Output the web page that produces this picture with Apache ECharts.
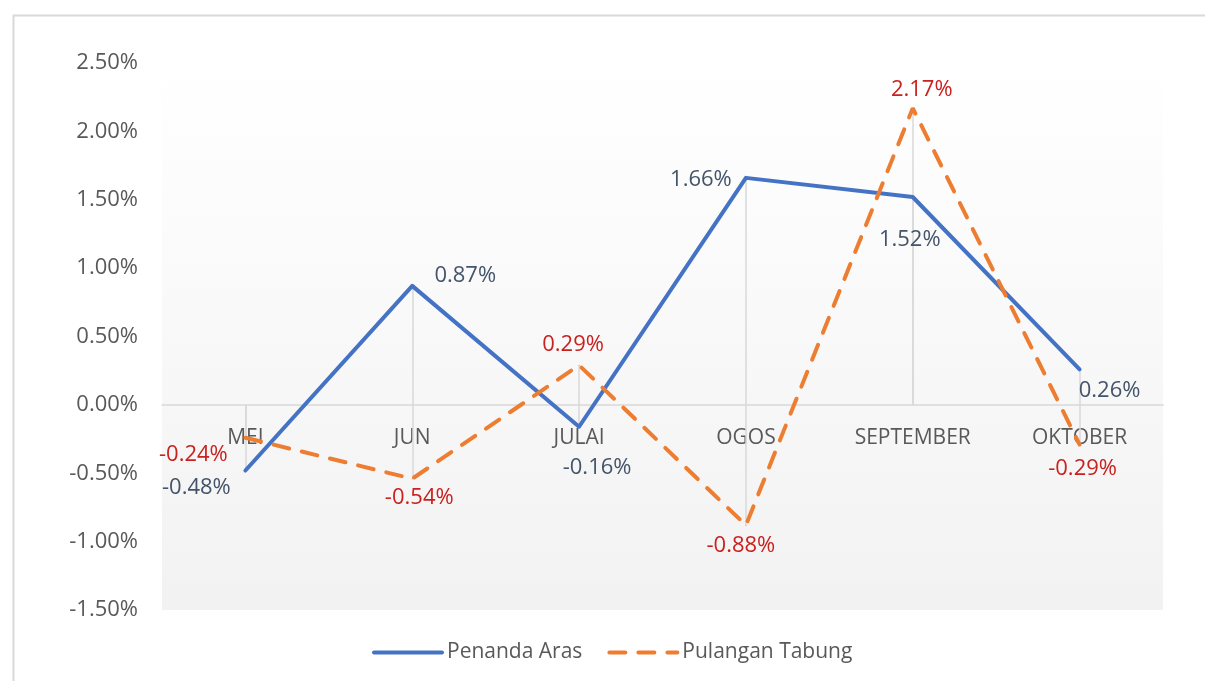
<!DOCTYPE html>
<html>
<head>
<meta charset="utf-8">
<script src="https://cdn.jsdelivr.net/npm/echarts@6/dist/echarts.min.js"></script>
<style>
  html, body { margin: 0; padding: 0; background: #fff; }
  #chart { width: 1205px; height: 681px; }
</style>
</head>
<body>
<div id="chart"></div>
<script>
// data (percent)
const months = ['MEI', 'JUN', 'JULAI', 'OGOS', 'SEPTEMBER', 'OKTOBER']
const penandaAras = [-0.48, 0.87, -0.16, 1.66, 1.52, 0.26]
const pulanganTabung = [-0.24, -0.54, 0.29, -0.88, 2.17, -0.29]

// label nudges (px) relative to each point
const offsetAras = [[-49, 17], [53, -10], [18, 41], [-45, 2], [-3, 43], [30, 21]]
const offsetTabung = [[-52, 17], [7, 19], [-6, -20], [-5, 21], [9, -18], [3, 24]]

const font = '"Open Sans", sans-serif'

function withLabels (values, offsets, color) {
  return values.map((v, i) => ({
    value: v,
    label: {
      show: true,
      position: 'inside',
      offset: offsets[i],
      color: color,
      fontFamily: font,
      fontSize: 22,
      formatter: (p) => p.value.toFixed(2) + '%'
    }
  }))
}

function dropLines (values) {
  return values.map((v, i) => [{ coord: [i, v] }, { coord: [i, 0] }])
}

const chart = echarts.init(document.getElementById('chart'))

const option = {
  animation: false,
  graphic: [{
    type: 'rect',
    left: 11,
    top: 13,
    shape: { width: 1220, height: 720 },
    style: { fill: 'none', stroke: '#d9d9d9', lineWidth: 2 },
    silent: true
  }],
  grid: {
    left: 162,
    right: 42,
    top: 63,
    bottom: 71,
    show: true,
    borderWidth: 0,
    backgroundColor: new echarts.graphic.LinearGradient(0, 0, 0, 1, [
      { offset: 0, color: '#ffffff' },
      { offset: 1, color: '#f2f2f2' }
    ])
  },
  legend: {
    bottom: 13,
    left: 367,
    itemWidth: 68,
    itemHeight: 10,
    itemGap: 25,
    data: ['Penanda Aras', 'Pulangan Tabung'],
    itemStyle: { opacity: 0 },
    lineStyle: { width: 4 },
    textStyle: { color: '#595959', fontFamily: font, fontSize: 21 }
  },
  xAxis: {
    type: 'category',
    data: months,
    boundaryGap: true,
    axisLine: { onZero: false, lineStyle: { color: '#d9d9d9', width: 1.5 } },
    axisTick: { show: false },
    axisLabel: { color: '#595959', fontFamily: font, fontSize: 21, margin: 23 }
  },
  yAxis: {
    type: 'value',
    min: -1.5,
    max: 2.5,
    interval: 0.5,
    splitLine: { show: false },
    axisLine: { show: false },
    axisTick: { show: false },
    axisLabel: {
      color: '#595959',
      fontFamily: font,
      fontSize: 22,
      margin: 24,
      formatter: (v) => v.toFixed(2) + '%'
    }
  },
  series: [
    {
      name: 'Penanda Aras',
      type: 'line',
      symbol: 'circle',
      symbolSize: 1,
      z: 3,
      lineStyle: { color: '#4472c4', width: 4, cap: 'round', join: 'round' },
      itemStyle: { color: '#4472c4' },
      data: withLabels(penandaAras, offsetAras, '#44546a'),
      markLine: {
        silent: true,
        symbol: ['none', 'none'],
        label: { show: false },
        lineStyle: { color: '#d9d9d9', type: 'solid', width: 1.5 },
        z: 1,
        data: dropLines(penandaAras)
      }
    },
    {
      name: 'Pulangan Tabung',
      type: 'line',
      symbol: 'circle',
      symbolSize: 1,
      z: 4,
      lineStyle: { color: '#ed7d31', width: 4, type: [16, 13], cap: 'round' },
      itemStyle: { color: '#ed7d31' },
      data: withLabels(pulanganTabung, offsetTabung, '#c9211e'),
      markLine: {
        silent: true,
        symbol: ['none', 'none'],
        label: { show: false },
        lineStyle: { color: '#d9d9d9', type: 'solid', width: 1.5 },
        z: 1,
        data: dropLines(pulanganTabung)
      }
    }
  ]
}

chart.setOption(option)

// move the category axis (line and labels) up to the zero line
const zeroY = chart.convertToPixel({ yAxisIndex: 0 }, 0)
const bottomY = chart.convertToPixel({ yAxisIndex: 0 }, -1.5)
chart.setOption({ xAxis: { offset: zeroY - bottomY } })
</script>
</body>
</html>
